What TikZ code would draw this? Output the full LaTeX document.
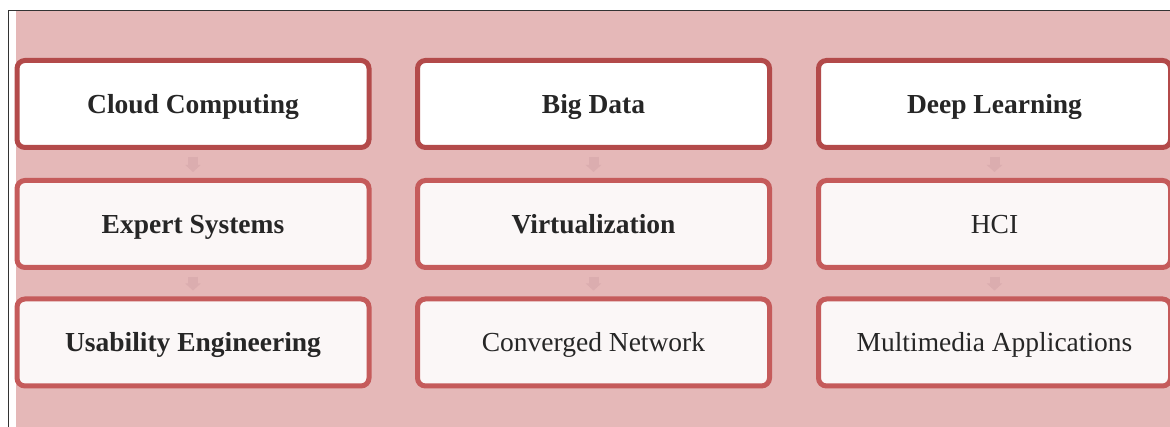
\documentclass[tikz,border=0pt]{standalone}
\usepackage{fontspec}
\setmainfont{Liberation Serif}
\usetikzlibrary{arrows.meta}
\definecolor{bgpink}{HTML}{E5B8B8}
\definecolor{edgeA}{HTML}{B34A4A}
\definecolor{edgeB}{HTML}{C55B5B}
\definecolor{fillB}{HTML}{FBF7F7}
\definecolor{txt}{HTML}{262626}
\definecolor{arr}{HTML}{DBADAF}
\tikzset{
  boxbase/.style={rectangle, rounded corners=8pt, minimum width=352pt, minimum height=87pt,
    line width=5pt, text=txt, font=\fontsize{27.5}{30}\selectfont, inner sep=0pt,
    text height=18.5pt, text depth=0pt},
  toprow/.style={boxbase, draw=edgeA, fill=white},
  lowrow/.style={boxbase, draw=edgeB, fill=fillB},
  flowarrow/.style={draw=arr, line width=10pt, -{Triangle[width=15pt,length=7pt]},
    shorten <=7pt, shorten >=6pt}
}
\begin{document}
\begin{tikzpicture}[x=1pt,y=-1pt]
\useasboundingbox (0,0) rectangle (1170,427);
\fill[white] (0,0) rectangle (1170,427);
\fill[bgpink] (16,11) rectangle (1170,427);
\draw[line width=1.2pt, black!80] (1170,10.5) -- (8.5,10.5) -- (8.5,427);
% row 1
\node[toprow] (cc) at (193,104) {\bfseries Cloud Computing};
\node[toprow] (bd) at (593.5,104) {\bfseries Big Data};
\node[toprow] (dl) at (994.5,104) {\bfseries Deep Learning};
% row 2
\node[lowrow] (es) at (193,224) {\bfseries Expert Systems};
\node[lowrow] (vi) at (593.5,224) {\bfseries Virtualization};
\node[lowrow] (hc) at (994.5,224) {HCI};
% row 3
\node[lowrow] (ue) at (193,342.5) {\bfseries Usability Engineering};
\node[lowrow] (cn) at (593.5,342.5) {Converged Network};
\node[lowrow] (ma) at (994.5,342.5) {Multimedia Applications};
% arrows
\draw[flowarrow] (cc) -- (es);
\draw[flowarrow] (es) -- (ue);
\draw[flowarrow] (bd) -- (vi);
\draw[flowarrow] (vi) -- (cn);
\draw[flowarrow] (dl) -- (hc);
\draw[flowarrow] (hc) -- (ma);
\end{tikzpicture}
\end{document}
